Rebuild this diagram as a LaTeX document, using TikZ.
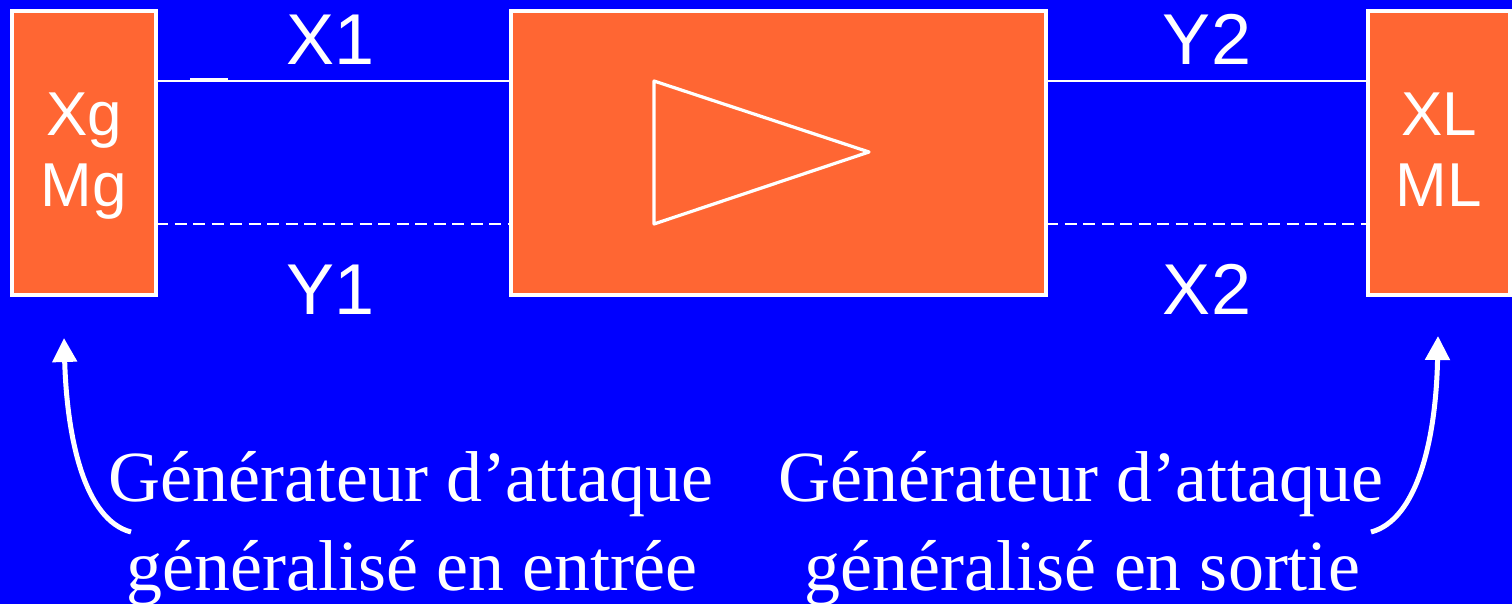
\documentclass[tikz,border=0pt]{standalone}
\usepackage{fontspec}
\setmainfont{Liberation Serif}
\newfontfamily\sansf{Liberation Sans}
\usetikzlibrary{arrows.meta}
\definecolor{bg}{RGB}{0,0,255}
\definecolor{boxc}{RGB}{255,102,51}
\tikzset{
 x=1pt,y=-1pt,
 blockbox/.style={draw=white,fill=boxc,line width=3.2pt,minimum width=0,inner sep=0},
 wire/.style={draw=white,line width=2.6pt},
 dashwire/.style={wire,dash pattern=on 12pt off 6.5pt},
 sanslab/.style={text=white,font=\sansf\fontsize{55}{66}\selectfont,inner sep=0,anchor=base},
 inlab/.style={text=white,font=\sansf\fontsize{52}{62}\selectfont,inner sep=0,align=center,anchor=base},
 serlab/.style={text=white,font=\fontsize{66}{70}\selectfont,inner sep=0,anchor=base},
 curvearrow/.style={draw=white,line width=5pt,-{Triangle[length=24pt,width=24pt]}},
}
\begin{document}
\begin{tikzpicture}
\useasboundingbox (0,0) rectangle (1512,604);
\fill[bg] (0,0) rectangle (1512,604);
\path[blockbox] (12,11) rectangle (156,295);
\path[blockbox] (511,11) rectangle (1046,295);
\path[blockbox] (1368,11) rectangle (1510,295);
\coordinate (l1) at (156,81); \coordinate (r1) at (511,81);
\coordinate (l2) at (156,224); \coordinate (r2) at (511,224);
\coordinate (l3) at (1046,81); \coordinate (r3) at (1368,81);
\coordinate (l4) at (1046,224); \coordinate (r4) at (1368,224);
\draw[wire] (l1)--(r1);
\draw[wire] (190,79.5)--(228,79.5);
\draw[dashwire] (l2)--(r2);
\draw[wire] (l3)--(r3);
\draw[dashwire] (l4)--(r4);
\draw[wire,line width=3.2pt,line join=round] (654,81)--(869,152)--(654,224)--cycle;
\node[sanslab,font=\sansf\fontsize{72}{80}\selectfont] (x1) at (331,65) {X1};
\node[sanslab,font=\sansf\fontsize{72}{80}\selectfont] (y2) at (1207,65) {Y2};
\node[sanslab,font=\sansf\fontsize{72}{80}\selectfont] (y1) at (331,314) {Y1};
\node[sanslab,font=\sansf\fontsize{72}{80}\selectfont] (x2) at (1207,314) {X2};
\node[sanslab,font=\sansf\fontsize{62}{70}\selectfont] (xg) at (84,136) {Xg};
\node[sanslab,font=\sansf\fontsize{62}{70}\selectfont] (mg) at (84,207) {Mg};
\node[sanslab,font=\sansf\fontsize{62}{70}\selectfont] (xl) at (1439,136) {XL};
\node[sanslab,font=\sansf\fontsize{62}{70}\selectfont] (ml) at (1439,207) {ML};
\node[serlab,font=\fontsize{72}{80}\selectfont] (g1) at (411,501) {Générateur d’attaque};
\node[serlab,font=\fontsize{72}{80}\selectfont] (g2) at (412,590) {généralisé en entrée};
\node[serlab,font=\fontsize{72}{80}\selectfont] (g3) at (1081,501) {Générateur d’attaque};
\node[serlab,font=\fontsize{72}{80}\selectfont] (g4) at (1082,590) {généralisé en sortie};
\coordinate (a1) at (131,532); \coordinate (a2) at (64,338);
\coordinate (b1) at (1371,532); \coordinate (b2) at (1438,336);
\draw[curvearrow] (a1) .. controls (85,520) and (67,440) .. (a2);
\draw[curvearrow] (b1) .. controls (1417,520) and (1436,440) .. (b2);
\end{tikzpicture}
\end{document}
